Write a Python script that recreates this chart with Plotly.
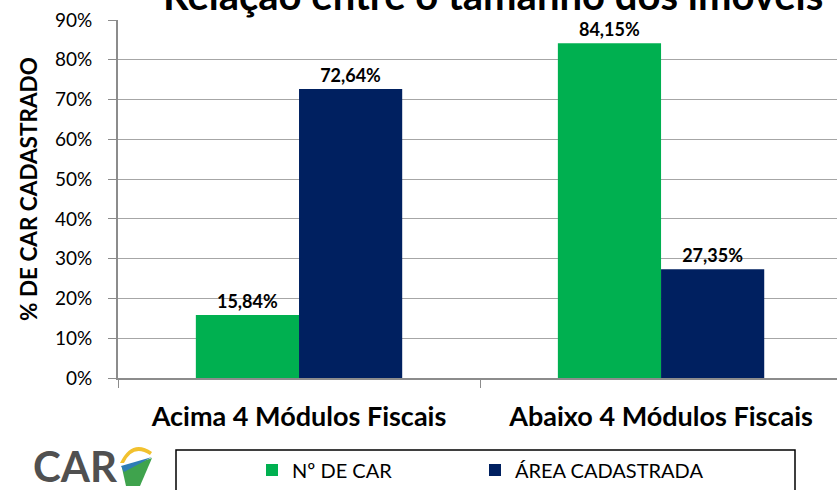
import plotly.graph_objects as go

categories = ["Acima 4 Módulos Fiscais", "Abaixo 4 Módulos Fiscais"]
series_names = ["Nº DE CAR", "ÁREA CADASTRADA"]
n_car = [15.84, 84.15]
area_cadastrada = [72.64, 27.35]
y_ticks = [0, 10, 20, 30, 40, 50, 60, 70, 80, 90]
y_ticklabels = [f"{t}%" for t in y_ticks]
title_text = "Relação entre o tamanho dos imóveis"
y_title = "% DE CAR CADASTRADO"

GREEN = "#00B050"
NAVY = "#002060"
FONT = "Lato"

W, H = 837, 490
L, R, T, B = 118, 0, 20, 112
pw, ph = W - L - R, H - T - B

def px_x(x):
    return (x - L) / pw

def px_y(y):
    return (H - B - y) / ph

def lab(v):
    return f"{v:.2f}%".replace(".", ",")

fig = go.Figure()
for name, vals, col, lg in [(series_names[0], n_car, GREEN, "legend"),
                            (series_names[1], area_cadastrada, NAVY, "legend2")]:
    fig.add_trace(go.Bar(
        name=name, x=categories, y=vals, marker=dict(color=col, line=dict(width=0)),
        text=[lab(v) for v in vals], textposition="outside",
        textfont=dict(family=FONT, size=18, color="#000000", weight="bold"),
        cliponaxis=False, legend=lg,
    ))

legend_common = dict(
    orientation="h", yanchor="middle", xanchor="left",
    font=dict(family=FONT, size=20, color="#000000"),
    bgcolor="rgba(0,0,0,0)", borderwidth=0, itemwidth=30,
)

fig.update_layout(
    width=W, height=H,
    margin=dict(l=L, r=R, t=T, b=B, pad=0, autoexpand=False),
    paper_bgcolor="white", plot_bgcolor="white",
    barmode="group", bargap=0.43, bargroupgap=0,
    font=dict(family=FONT, color="#000000"),
    showlegend=True,
    legend=dict(x=px_x(252), y=px_y(470), **legend_common),
    legend2=dict(x=px_x(475), y=px_y(470), **legend_common),
    xaxis=dict(
        range=[-0.5, 1.486], showgrid=False, automargin=False,
        showline=True, linecolor="#8C8C8C", linewidth=2,
        ticks="outside", tickson="boundaries", ticklen=8, tickcolor="#8C8C8C", tickwidth=1,
        tickfont=dict(family=FONT, size=27, color="#000000", weight="bold"),
        ticklabelstandoff=14,
    ),
    yaxis=dict(
        range=[0, 90], tickvals=y_ticks, ticktext=y_ticklabels, automargin=False,
        showgrid=True, gridcolor="#A6A6A6", gridwidth=1,
        showline=True, linecolor="#8C8C8C", linewidth=2,
        ticks="outside", ticklen=8, tickcolor="#8C8C8C", tickwidth=1,
        tickfont=dict(family=FONT, size=19, color="#000000"),
        ticklabelstandoff=12,
        zeroline=False,
    ),
)

# y-axis title
fig.add_annotation(
    text=y_title, xref="paper", yref="paper", x=px_x(28), y=px_y(189),
    xanchor="center", yanchor="middle", textangle=-90, showarrow=False,
    font=dict(family=FONT, size=22.5, color="#000000", weight="bold"),
)

# clipped title at the top
fig.add_annotation(
    text=title_text, xref="paper", yref="paper", x=px_x(161), y=px_y(-5),
    xanchor="left", yanchor="middle", showarrow=False,
    font=dict(family=FONT, size=40, color="#000000", weight="bold"),
)

# legend frame
fig.add_shape(type="rect", xref="paper", yref="paper",
              x0=px_x(176), x1=px_x(795), y0=px_y(450), y1=px_y(495),
              line=dict(color="#000000", width=1.5), fillcolor="rgba(0,0,0,0)", layer="below")

# logo
fig.add_annotation(
    text="CAR", xref="paper", yref="paper", x=px_x(31), y=px_y(466),
    xanchor="left", yanchor="middle", showarrow=False,
    font=dict(family=FONT, size=42, color="#505050", weight="bold"),
)
def P(x, y):
    return f"{px_x(x):.4f},{px_y(y):.4f}"
fig.add_shape(type="path", xref="paper", yref="paper",
              path=f"M {P(120,463)} Q {P(132,438)} {P(152,452)} L {P(150,455)} Q {P(133,444)} {P(124,463)} Z",
              fillcolor="#F2C12E", line=dict(width=0))
fig.add_shape(type="path", xref="paper", yref="paper",
              path=f"M {P(122,468)} L {P(152,458)} L {P(140,486)} L {P(126,486)} Z",
              fillcolor="#3FA34D", line=dict(width=0))
fig.add_shape(type="path", xref="paper", yref="paper",
              path=f"M {P(121,466)} L {P(152,457)} L {P(124,472)} Z",
              fillcolor="#2E7DB5", line=dict(width=0))

fig.write_html("out.html", config={"displayModeBar": False},
               post_script="document.body.style.margin='0';")
